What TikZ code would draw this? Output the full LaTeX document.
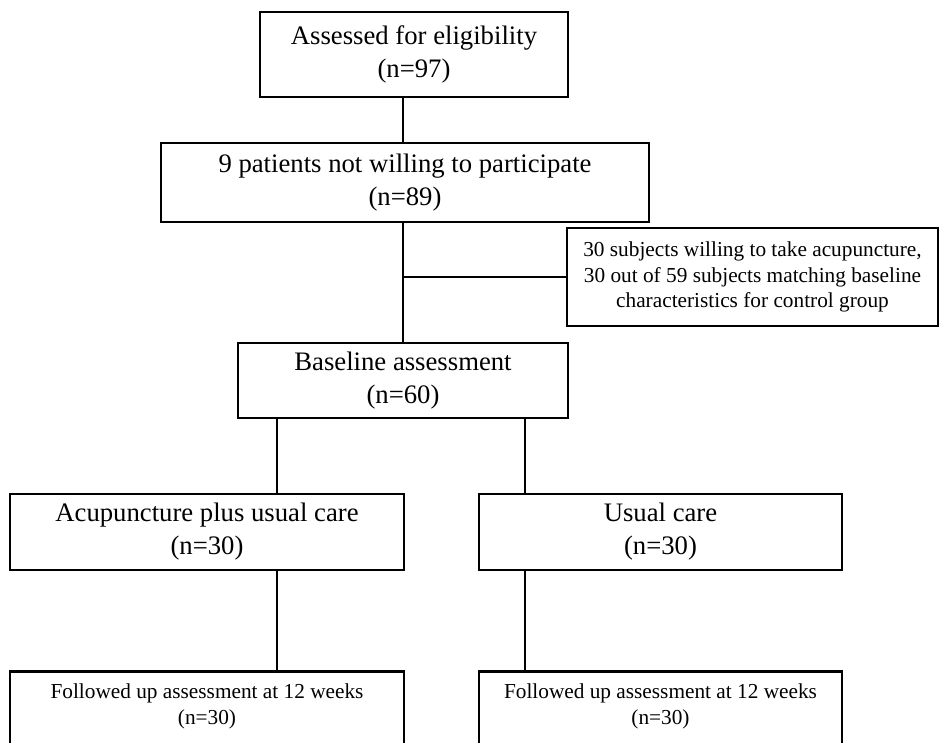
\documentclass[tikz,border=0pt]{standalone}
\usepackage{fontspec}
\setmainfont{Liberation Serif}
\begin{document}
\begin{tikzpicture}[x=1pt,y=-1pt,
  box/.style={draw=black, line width=2.8pt, fill=white, align=center, inner sep=0pt},
  big/.style={font=\fontsize{26.7}{33}\selectfont},
  small/.style={font=\fontsize{21.3}{25.5}\selectfont},
  conn/.style={line width=2.7pt}]
\useasboundingbox (0,0) rectangle (940,742);
\clip (0,0) rectangle (940,742);
\coordinate (lx) at (277,0);
\coordinate (rx) at (525,0);
\node[box,big,minimum width=308pt,minimum height=85pt] (elig) at (414,54.5) {Assessed for eligibility\\(n=97)};
\node[box,big,minimum width=488pt,minimum height=79pt] (willing) at (405,182.5) {9 patients not willing to participate\\(n=89)};
\node[box,small,minimum width=371pt,minimum height=98pt] (match) at (752.5,277) {30 subjects willing to take acupuncture,\\30 out of 59 subjects matching baseline\\characteristics for control group};
\node[box,big,minimum width=330pt,minimum height=75pt] (base) at (403,380.5) {Baseline assessment\\(n=60)};
\node[box,big,minimum width=394pt,minimum height=76pt] (acu) at (207,532) {Acupuncture plus usual care\\(n=30)};
\node[box,big,minimum width=363pt,minimum height=76pt] (usual) at (660.5,532) {Usual care\\(n=30)};
\node[box,anchor=north,minimum width=394pt,minimum height=110pt] (fol1) at (207,670) {};
\node[box,anchor=north,minimum width=363pt,minimum height=110pt] (fol2) at (660.5,670) {};
\node[small,align=center,anchor=north,inner sep=0pt] (fol1txt) at (207,684) {Followed up assessment at 12 weeks\\(n=30)};
\node[small,align=center,anchor=north,inner sep=0pt] (fol2txt) at (660.5,684) {Followed up assessment at 12 weeks\\(n=30)};
\draw[conn] (elig.south -| base.north) -- (willing.north -| base.north);
\draw[conn] (willing.south -| base.north) -- (base.north);
\draw[conn] (match.west) -- (match.west -| base.north);
\draw[conn] (base.south -| lx) -- (acu.north -| lx);
\draw[conn] (base.south -| rx) -- (usual.north -| rx);
\draw[conn] (acu.south -| lx) -- (fol1.north -| lx);
\draw[conn] (usual.south -| rx) -- (fol2.north -| rx);
\end{tikzpicture}
\end{document}
